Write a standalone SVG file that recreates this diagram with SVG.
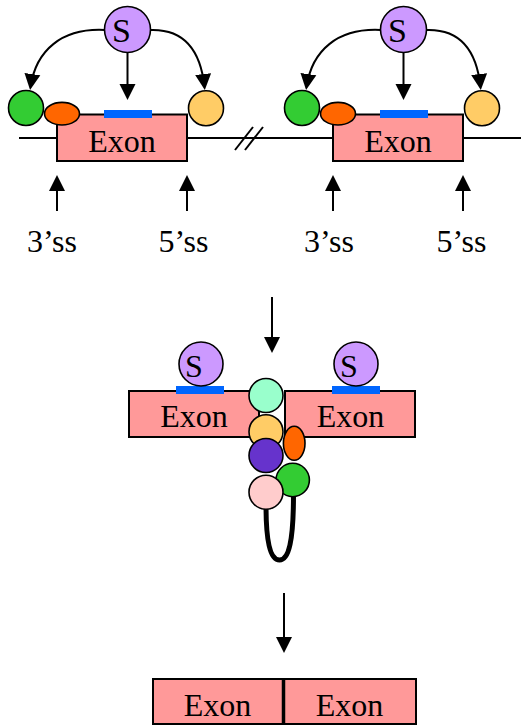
<svg xmlns="http://www.w3.org/2000/svg" width="521" height="725" viewBox="0 0 521 725">
  <style>
    .exon { fill: #FF9999; stroke: #000; stroke-width: 2; }
    .site { fill: #0066FF; }
    .ball { stroke: #000; stroke-width: 1.6; }
    .s { fill: #CC99FF; }
    .green { fill: #33CC33; }
    .orange { fill: #FF6600; }
    .yellow { fill: #FFCC66; }
    .mint { fill: #99FFCC; }
    .violet { fill: #6633CC; }
    .pink { fill: #FFCCCC; }
    .lbl { font-family: "Liberation Serif", "Times New Roman", serif; fill: #000; text-anchor: middle; }
    .ex { font-size: 32px; }
    .ss { font-size: 32px; }
    .sl { font-size: 34px; }
    .sm { font-size: 32px; }
    .wire { fill: none; stroke: #000; stroke-width: 2; }
    .arr { fill: none; stroke: #000; stroke-width: 2; marker-end: url(#head); }
  </style>
  <defs>
    <marker id="head" markerUnits="userSpaceOnUse" markerWidth="17" markerHeight="17" refX="13" refY="8" orient="auto" viewBox="0 0 17 16">
      <path d="M0,0 L16,8 L0,16 z" fill="#000"/>
    </marker>
  </defs>

  <!-- pre-mRNA backbone with break mark -->
  <g id="backbone">
    <line class="wire" x1="19" y1="138" x2="521" y2="138"/>
    <line class="wire" x1="235" y1="150" x2="253" y2="127"/>
    <line class="wire" x1="245" y1="150" x2="263" y2="127"/>
  </g>

  <!-- left exon unit -->
  <g id="exon-a">
    <rect class="exon" x="57" y="114.5" width="130" height="46.5"/>
    <rect class="site" x="104" y="110" width="48" height="8"/>
    <text class="lbl ex" x="122" y="152">Exon</text>
  </g>
  <g id="green-a"><circle class="ball green" cx="26" cy="108" r="17.5"/></g>
  <g id="orange-a"><ellipse class="ball orange" cx="62" cy="113.7" rx="17.5" ry="11.3"/></g>
  <g id="yellow-a"><circle class="ball yellow" cx="206" cy="108.3" r="17.5"/></g>
  <g id="s-a">
    <circle class="ball s" cx="127.5" cy="29.5" r="23"/>
    <text class="lbl sl" x="121.5" y="42">S</text>
  </g>

  <!-- right exon unit -->
  <g id="exon-b">
    <rect class="exon" x="333" y="114.5" width="130" height="46.5"/>
    <rect class="site" x="380" y="110" width="48" height="8"/>
    <text class="lbl ex" x="398" y="152">Exon</text>
  </g>
  <g id="green-b"><circle class="ball green" cx="302" cy="108" r="17.5"/></g>
  <g id="orange-b"><ellipse class="ball orange" cx="338" cy="113.7" rx="17.5" ry="11.3"/></g>
  <g id="yellow-b"><circle class="ball yellow" cx="482" cy="108.3" r="17.5"/></g>
  <g id="s-b">
    <circle class="ball s" cx="403.5" cy="29.5" r="23"/>
    <text class="lbl sl" x="397.5" y="42">S</text>
  </g>

  <!-- splice site labels -->
  <g id="ss-labels">
    <text class="lbl ss" x="52" y="252">3’ss</text>
    <text class="lbl ss" x="183.5" y="252">5’ss</text>
    <text class="lbl ss" x="329" y="252">3’ss</text>
    <text class="lbl ss" x="461.5" y="252">5’ss</text>
  </g>

  <!-- spliceosome assembly -->
  <g id="exon-c">
    <rect class="exon" x="129" y="391" width="130" height="46"/>
    <rect class="site" x="176" y="386" width="48" height="8"/>
    <text class="lbl ex" x="194" y="427">Exon</text>
  </g>
  <g id="exon-d">
    <rect class="exon" x="285" y="391" width="130" height="46"/>
    <rect class="site" x="332" y="386" width="48" height="8"/>
    <text class="lbl ex" x="350.5" y="427">Exon</text>
  </g>
  <g id="s-c">
    <circle class="ball s" cx="201" cy="364" r="22"/>
    <text class="lbl sm" x="194" y="376.5">S</text>
  </g>
  <g id="s-d">
    <circle class="ball s" cx="356" cy="364" r="22"/>
    <text class="lbl sm" x="349" y="376.5">S</text>
  </g>
  <g id="intron-loop">
    <path d="M266,505 C266,540 270,560 279.5,560 C289,560 293.5,540 293.5,494" fill="none" stroke="#000" stroke-width="5"/>
  </g>
  <g id="mint"><circle class="ball mint" cx="266" cy="395.5" r="17"/></g>
  <g id="yellow-c"><circle class="ball yellow" cx="266" cy="431.7" r="17"/></g>
  <g id="orange-c"><ellipse class="ball orange" cx="294.2" cy="443.3" rx="10.8" ry="17"/></g>
  <g id="violet"><circle class="ball violet" cx="266" cy="455.5" r="17"/></g>
  <g id="green-c"><circle class="ball green" cx="292.7" cy="480" r="16.7"/></g>
  <g id="pink"><circle class="ball pink" cx="266" cy="492.2" r="17"/></g>

  <!-- spliced product -->
  <g id="exon-e">
    <rect class="exon" x="153" y="679" width="130.5" height="45"/>
    <text class="lbl ex" x="217.5" y="715.5">Exon</text>
  </g>
  <g id="exon-f">
    <rect class="exon" x="283.5" y="679" width="132.5" height="45"/>
    <text class="lbl ex" x="349.5" y="715.5">Exon</text>
  </g>
  <line x1="283.5" y1="679" x2="283.5" y2="724" stroke="#000" stroke-width="3.5"/>

  <!-- connectors -->
  <g id="connectors">
    <path class="arr" d="M104.5,30 C62,28 36,50 30.5,87"/>
    <line class="arr" x1="127.5" y1="52.5" x2="127.5" y2="97"/>
    <path class="arr" d="M150.5,30 C180,29 200,45 204.5,87"/>
    <path class="arr" d="M380.5,30 C338,28 312,50 306.5,87"/>
    <line class="arr" x1="403.5" y1="52.5" x2="403.5" y2="97"/>
    <path class="arr" d="M426.5,30 C456,29 476,45 480.5,87"/>
    <line class="arr" x1="57" y1="211" x2="57" y2="178"/>
    <line class="arr" x1="187" y1="211" x2="187" y2="178"/>
    <line class="arr" x1="333" y1="211" x2="333" y2="178"/>
    <line class="arr" x1="463" y1="211" x2="463" y2="178"/>
    <line class="arr" x1="272" y1="297" x2="272" y2="350"/>
    <line class="arr" x1="284" y1="593" x2="284" y2="650"/>
  </g>
</svg>
